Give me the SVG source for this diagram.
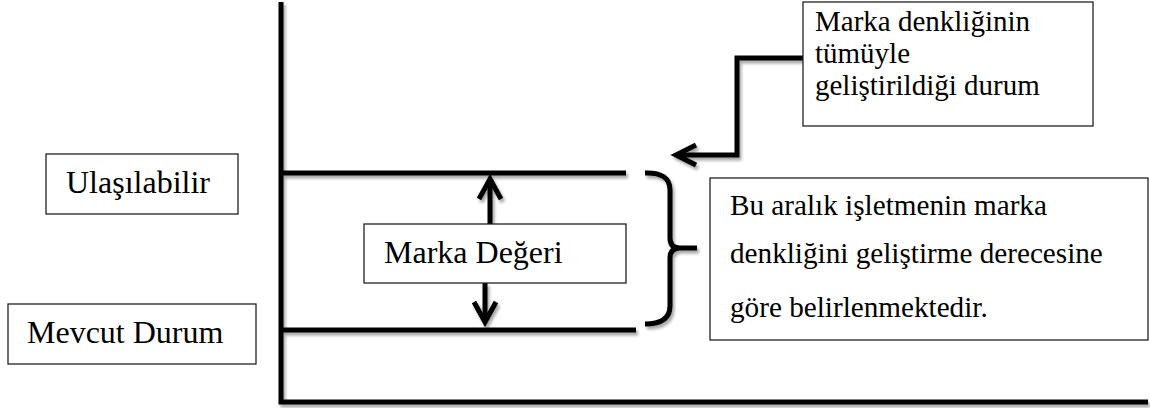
<svg xmlns="http://www.w3.org/2000/svg" width="1150" height="408" viewBox="0 0 1150 408">
  <style>
    .box { fill: #ffffff; stroke: #222222; stroke-width: 1.3; }
    .label { font-size: 32px; fill: #000000; }
    .note { font-size: 29px; fill: #000000; }
    .range { font-size: 29.2px; fill: #000000; }
    .heavy { fill: none; stroke: #000000; stroke-width: 5; stroke-linecap: butt; stroke-linejoin: miter; }
    .head { fill: none; stroke: #000000; stroke-width: 5; stroke-linecap: butt; stroke-linejoin: miter; }
  </style>
  <defs>
    <filter id="shadow" x="-5%" y="-5%" width="110%" height="110%">
      <feGaussianBlur in="SourceAlpha" stdDeviation="1.6"/>
      <feOffset dx="1.5" dy="2.5" result="blur"/>
      <feComponentTransfer><feFuncA type="linear" slope="0.35"/></feComponentTransfer>
      <feMerge><feMergeNode/><feMergeNode in="SourceGraphic"/></feMerge>
    </filter>
  </defs>

  <rect width="1150" height="408" fill="#ffffff"/>

  <!-- chart frame, level lines, brace and arrows -->
  <g id="connectors" filter="url(#shadow)">
    <!-- axes -->
    <path class="heavy" d="M281,2 L281,402 L1148,402"/>
    <!-- achievable level -->
    <path class="heavy" d="M281,173 L626,173"/>
    <!-- current level -->
    <path class="heavy" d="M281,330 L636,330"/>
    <!-- range brace -->
    <path class="heavy" d="M645,173 Q670,172 670,190 L670,238 Q670,248 680,248 L697,248 M680,248 Q670,248 670,258 L670,306 Q670,324 645,324"/>
    <!-- value arrows -->
    <path class="heavy" d="M490,224 L490,180"/>
    <path class="head" d="M479,199 L490,179 L501,199"/>
    <path class="heavy" d="M485,283 L485,321"/>
    <path class="head" d="M474,302 L485,322 L496,302"/>
    <!-- elbow from fully developed note -->
    <path class="heavy" d="M803,58 L737,58 L737,155 L677,155"/>
    <path class="head" d="M696,145 L676,155 L696,165"/>
  </g>

  <g font-family="'Liberation Serif', Tinos, 'Times New Roman', serif">
    <g id="node-ulasilabilir">
      <rect class="box" x="46" y="154" width="192" height="60"/>
      <text class="label" x="66" y="193" font-size="31.6">Ulaşılabilir</text>
    </g>

    <g id="node-mevcut-durum">
      <rect class="box" x="8" y="304" width="248" height="60"/>
      <text class="label" x="27" y="343">Mevcut Durum</text>
    </g>

    <g id="node-marka-degeri">
      <rect class="box" x="364" y="224" width="262" height="59"/>
      <text class="label" x="384" y="263">Marka Değeri</text>
    </g>

    <g id="node-tumuyle">
      <rect class="box" x="803" y="2" width="290" height="124"/>
      <text class="note" x="815" y="31">Marka denkliğinin</text>
      <text class="note" x="815" y="63">tümüyle</text>
      <text class="note" x="815" y="95">geliştirildiği durum</text>
    </g>

    <g id="node-aralik">
      <rect class="box" x="710" y="178" width="438" height="162"/>
      <text class="range" x="730" y="215">Bu aralık işletmenin marka</text>
      <text class="range" x="730" y="263">denkliğini geliştirme derecesine</text>
      <text class="range" x="730" y="317">göre belirlenmektedir.</text>
    </g>
  </g>
</svg>
